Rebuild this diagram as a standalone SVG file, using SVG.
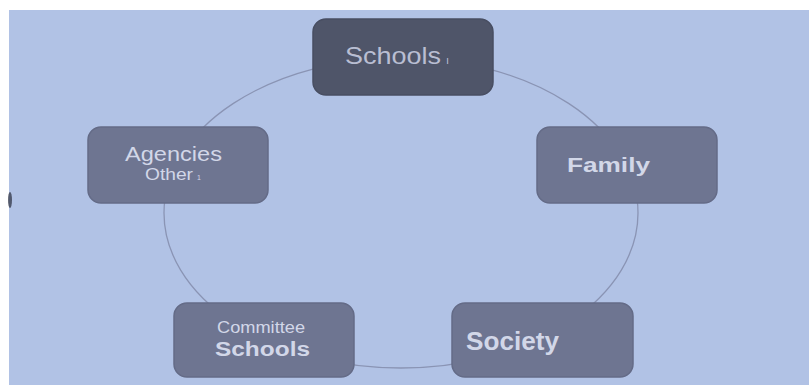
<svg xmlns="http://www.w3.org/2000/svg" width="809" height="385" viewBox="0 0 809 385">
<style>
.box{fill:#6e7591;stroke:#646b87;stroke-width:1.5}
.dark{fill:#4f5569;stroke:#484e62}
.t{font-family:"Liberation Sans",Arial,sans-serif;fill:#d2d7e8}
.b{font-weight:bold}
</style>
<rect x="0" y="0" width="809" height="385" fill="#ffffff"/>
<rect x="9" y="10" width="800" height="375" fill="#b1c2e5"/>
<ellipse cx="10" cy="200" rx="2" ry="8" fill="#3a3f50" opacity="0.8"/>
<g id="connectors">
<ellipse cx="401" cy="213" rx="237" ry="155" fill="none" stroke="#8a94b4" stroke-width="1.3"/>
</g>
<g id="schools">
<rect class="box dark" x="313" y="19" width="180" height="76" rx="13"/>
<text class="t" x="345" y="64" font-size="24" textLength="96" lengthAdjust="spacingAndGlyphs" style="fill:#b9bed2">Schools</text>
<text class="t" x="446" y="64" font-size="11" style="fill:#b9bed2">ı</text>
</g>
<g id="agencies">
<rect class="box" x="88" y="127" width="180" height="76" rx="13"/>
<text class="t" x="125" y="161" font-size="20" textLength="97" lengthAdjust="spacingAndGlyphs">Agencies</text>
<text class="t" x="145" y="180" font-size="17" textLength="48" lengthAdjust="spacingAndGlyphs">Other</text>
<text class="t" x="197" y="180" font-size="7">1</text>
</g>
<g id="family">
<rect class="box" x="537" y="127" width="180" height="76" rx="13"/>
<text class="t b" x="567" y="172" font-size="21" textLength="83" lengthAdjust="spacingAndGlyphs">Family</text>
</g>
<g id="committee">
<rect class="box" x="174" y="303" width="180" height="74" rx="13"/>
<text class="t" x="217" y="333" font-size="17" textLength="88" lengthAdjust="spacingAndGlyphs">Committee</text>
<text class="t b" x="215" y="356" font-size="20" textLength="95" lengthAdjust="spacingAndGlyphs">Schools</text>
</g>
<g id="society">
<rect class="box" x="452" y="303" width="181" height="74" rx="13"/>
<text class="t b" x="466" y="350" font-size="25" textLength="93" lengthAdjust="spacingAndGlyphs">Society</text>
</g>
</svg>
